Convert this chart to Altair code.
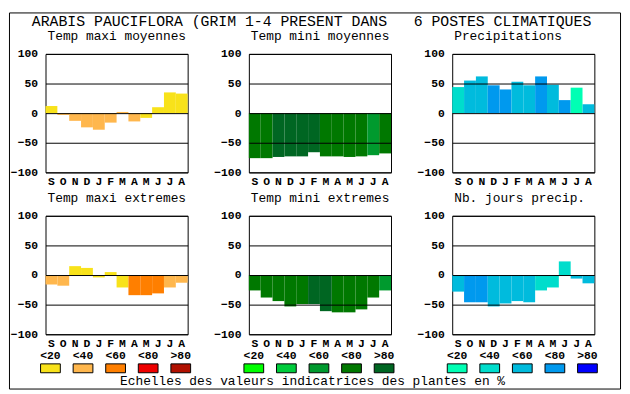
import altair as alt
import pandas as pd

# ---------------- data ----------------
months = ["Septembre", "Octobre", "Novembre", "Décembre", "Janvier", "Février",
          "Mars", "Avril", "Mai", "Juin", "Juillet", "Août"]
panels = ["Temp maxi moyennes", "Temp mini moyennes", "Precipitations",
          "Temp maxi extremes", "Temp mini extremes", "Nb. jours precip."]
panel_group = ["T", "G", "B", "T", "G", "B"]

tmax_moy = [12, -3, -13, -24, -28, -16, 2, -14, -8, 10, 35, 33]
tmax_moy_cls = [1, 2, 2, 2, 2, 2, 2, 2, 1, 1, 1, 1]
tmin_moy = [-76, -76, -74, -73, -73, -66, -73, -73, -74, -73, -71, -68]
tmin_moy_cls = [4, 4, 5, 5, 5, 5, 4, 4, 4, 4, 3, 4]
precip = [44, 55, 62, 47, 40, 53, 47, 62, 48, 22, 43, 15]
precip_cls = [2, 3, 3, 4, 4, 3, 3, 4, 3, 4, 1, 3]
tmax_ext = [-16, -18, 15, 12, -4, 5, -21, -34, -34, -31, -21, -13]
tmax_ext_cls = [2, 2, 1, 1, 1, 1, 1, 3, 3, 3, 2, 2]
tmin_ext = [-26, -38, -44, -53, -49, -49, -61, -63, -63, -58, -38, -26]
tmin_ext_cls = [4, 4, 4, 4, 4, 5, 5, 4, 4, 4, 4, 3]
nb_jours = [-28, -46, -46, -53, -48, -44, -46, -26, -21, 23, -6, -14]
nb_jours_cls = [3, 4, 4, 3, 3, 3, 3, 2, 2, 2, 3, 3]

series = [tmax_moy, tmin_moy, precip, tmax_ext, tmin_ext, nb_jours]
series_cls = [tmax_moy_cls, tmin_moy_cls, precip_cls, tmax_ext_cls, tmin_ext_cls, nb_jours_cls]

levels = ["<20", "<40", "<60", "<80", ">80"]
colors_T = ["#F8E21A", "#FFB74D", "#FF7F00", "#EE0000", "#B01000"]
colors_G = ["#00FF00", "#00CC3C", "#009A2E", "#007800", "#006622"]
colors_B = ["#00FFB4", "#00DDCC", "#00BBDD", "#0099EE", "#0000FF"]

title_text = "ARABIS PAUCIFLORA (GRIM 1-4 PRESENT DANS\u00a0\u00a0 6 POSTES CLIMATIQUES"
caption_text = "Echelles des valeurs indicatrices des plantes en %"

# ---------------- table ----------------
rows = []
for p, g, vals, cls in zip(panels, panel_group, series, series_cls):
    for m, v, c in zip(months, vals, cls):
        rows.append(dict(kind="bar", panel=p, month=m, value=v, cls=f"{g}{c}"))
    rows.append(dict(kind="ptitle", panel=p, text=p))
rows.append(dict(kind="title", panel=panels[0], text=title_text))
rows.append(dict(kind="caption", panel=panels[4], text=caption_text))
rows.append(dict(kind="border", panel=panels[0]))
for p, g in zip(panels[3:], panel_group[3:]):
    for i, lv in enumerate(levels):
        rows.append(dict(kind="legend", panel=p, lvl=lv, cls=f"{g}{i+1}"))
df = pd.DataFrame(rows)

cls_domain = [f"{g}{i+1}" for g in ["T", "G", "B"] for i in range(5)]
cls_range = colors_T + colors_G + colors_B

MONO = "Liberation Mono"

color = alt.Color("cls:N", scale=alt.Scale(domain=cls_domain, range=cls_range), legend=None)

bars = alt.Chart().transform_filter(alt.datum.kind == "bar").mark_bar(stroke=None).encode(
    x=alt.X("month:N", sort=months,
            scale=alt.Scale(domain=months, paddingInner=0, paddingOuter=0),
            axis=alt.Axis(title=None, labelExpr="substring(datum.label, 0, 1)", labelAngle=0,
                          domain=False, ticks=False, tickSize=0, labelPadding=3,
                          labelFont=MONO, labelFontWeight="bold", labelFontSize=11.5,
                          labelColor="black", labelOverlap=False, grid=False)),
    y=alt.Y("value:Q", stack=None, scale=alt.Scale(domain=[-100, 100], nice=False),
            axis=alt.Axis(title=None, values=[-100, -50, 0, 50, 100], grid=True,
                          gridColor="black", gridOpacity=1, gridWidth=1, domain=False,
                          ticks=False, tickSize=0, labelPadding=8, labelFont=MONO,
                          labelFontWeight="bold", labelFontSize=11.5, labelColor="black",
                          zindex=1)),
    color=color,
)

ptitles = alt.Chart().transform_filter(alt.datum.kind == "ptitle").mark_text(
    font=MONO, fontSize=13, align="left", baseline="alphabetic", color="black"
).encode(x=alt.value(2), y=alt.value(-14), text="text:N")

main_title = alt.Chart().transform_filter(alt.datum.kind == "title").mark_text(
    font=MONO, fontSize=15, align="center", baseline="alphabetic", color="black"
).encode(x=alt.value(269.5), y=alt.value(-28), text="text:N")

caption = alt.Chart().transform_filter(alt.datum.kind == "caption").mark_text(
    font=MONO, fontSize=13, align="center", baseline="alphabetic", color="black"
).encode(x=alt.value(64.5), y=alt.value(171), text="text:N")

border = alt.Chart().transform_filter(alt.datum.kind == "border").mark_rect(
    fillOpacity=0, stroke="black", strokeWidth=1
).encode(x=alt.value(-36.5), x2=alt.value(582.5), y=alt.value(-41.5), y2=alt.value(339.5))

lvl_x = alt.X("lvl:N", sort=levels,
              scale=alt.Scale(type="point", domain=levels, range=[5, 137], padding=0),
              axis=None)

swatches = alt.Chart().transform_filter(alt.datum.kind == "legend").mark_bar(
    width=20, stroke="black", strokeWidth=1
).encode(x=lvl_x, y=alt.value(150), y2=alt.value(159), color=color)

swatch_labels = alt.Chart().transform_filter(alt.datum.kind == "legend").mark_text(
    font=MONO, fontSize=11.5, fontWeight="bold", align="center", baseline="alphabetic",
    color="black"
).encode(x=lvl_x, y=alt.value(145), text="lvl:N")

legend = alt.layer(swatches, swatch_labels)

cell = alt.layer(bars, ptitles, main_title, caption, border, legend).resolve_scale(
    x="independent").properties(width=144, height=120)

chart = cell.facet(
    data=df,
    facet=alt.Facet("panel:N", sort=panels, title=None,
                    header=alt.Header(labels=False, labelFontSize=1, labelPadding=0,
                                      labelColor="transparent")),
    columns=3,
    spacing={"row": 44, "column": 62},
).resolve_axis(x="independent", y="independent").properties(
    padding=0, bounds="flush", background="white"
).configure_view(stroke="black", strokeWidth=1).configure_header(
    labels=False, labelFontSize=1, labelPadding=0, labelColor="transparent"
)

chart.save("out.html", embed_options={"renderer": "svg", "actions": False})
